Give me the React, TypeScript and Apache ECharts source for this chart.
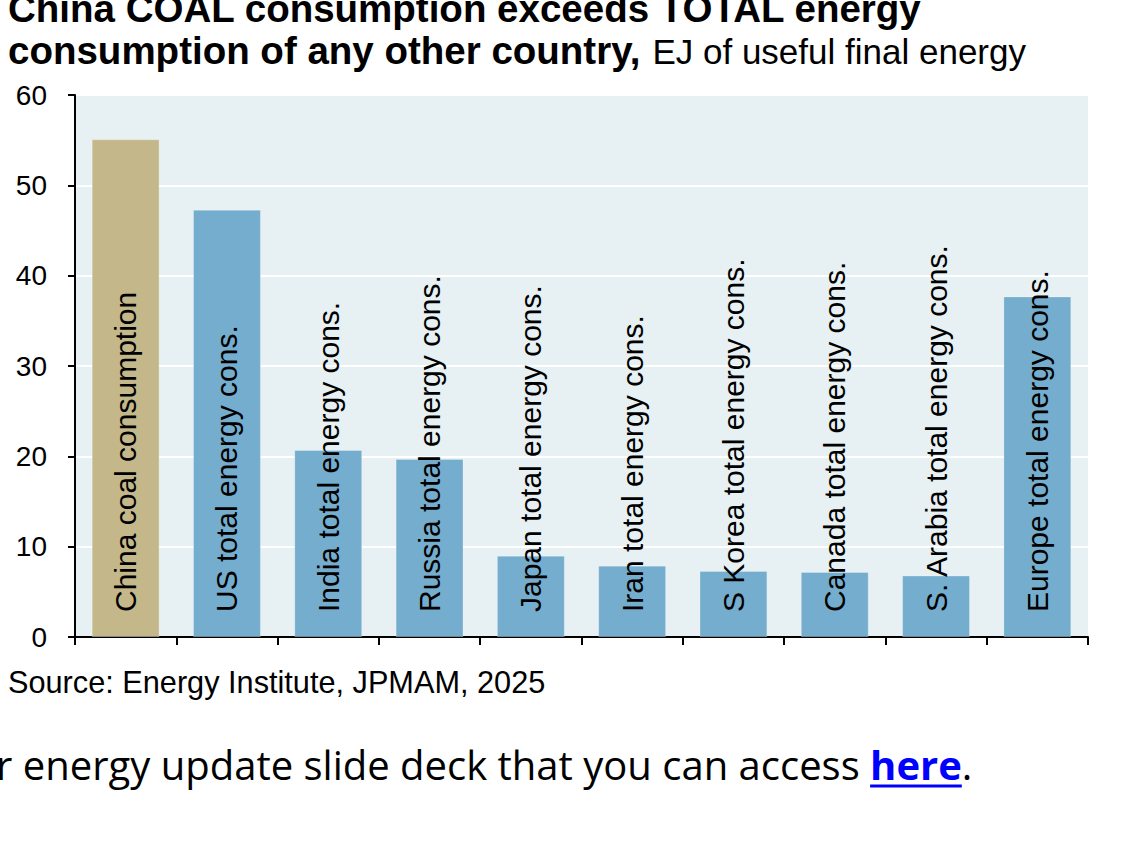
import { useEffect, useRef } from "react";
import * as echarts from "echarts";

type EChartsOption = echarts.EChartsOption;

const categories = [
  "China coal consumption",
  "US total energy cons.",
  "India total energy cons.",
  "Russia total energy cons.",
  "Japan total energy cons.",
  "Iran total energy cons.",
  "S Korea total energy cons.",
  "Canada total energy cons.",
  "S. Arabia total energy cons.",
  "Europe total energy cons.",
];

// EJ of useful final energy
const values = [55.1, 47.3, 20.7, 19.7, 9.0, 7.9, 7.3, 7.2, 6.8, 37.7];

const yTicks = [0, 10, 20, 30, 40, 50, 60];

const titleLine1 = "China COAL consumption exceeds TOTAL energy";
const titleLine2 = "consumption of any other country,";
const subtitle = "EJ of useful final energy";
const sourceText = "Source: Energy Institute, JPMAM, 2025";
const footerPrefix = "r energy update slide deck that you can access ";
const footerLink = "here";

const FONT = "'Liberation Sans', Arial, sans-serif";
const FOOT_FONT = "'Open Sans', 'Noto Sans', sans-serif";

function measure(text: string, font: string) {
  const ctx = document.createElement("canvas").getContext("2d");
  if (!ctx) return text.length * 10;
  ctx.font = font;
  return ctx.measureText(text).width;
}

export default function App() {
  const chartRef = useRef<HTMLDivElement>(null);

  useEffect(() => {
    if (!chartRef.current) return;
    const chart = echarts.init(chartRef.current, undefined, { renderer: "svg" });

    const boldTitle = `bold 38.5px ${FONT}`;
    const line2W = measure(titleLine2, boldTitle);

    const footSize = 40;
    const footX = -4;
    const prefixW = measure(footerPrefix, `${footSize}px ${FOOT_FONT}`);
    const linkW = measure(footerLink, `bold ${footSize}px ${FOOT_FONT}`);

    const option: EChartsOption = {
      animation: false,
      grid: {
        left: 75,
        right: 59,
        top: 95,
        bottom: 213,
        show: true,
        backgroundColor: "#E7F0F3",
        borderWidth: 0,
      },
      xAxis: {
        type: "category",
        data: categories,
        axisLabel: { show: false, interval: 0 },
        axisLine: { lineStyle: { color: "#000", width: 2 } },
        axisTick: {
          show: true,
          interval: 0,
          length: 8,
          lineStyle: { color: "#000", width: 2 },
        },
        splitLine: { show: false },
      },
      yAxis: {
        type: "value",
        min: 0,
        max: 60,
        interval: 10,
        axisLine: { show: true, lineStyle: { color: "#000", width: 2 } },
        axisTick: {
          show: true,
          length: 7,
          lineStyle: { color: "#000", width: 2 },
        },
        axisLabel: {
          fontFamily: FONT,
          fontSize: 28,
          color: "#000",
          margin: 28,
          formatter: (v: number) => (yTicks.includes(v) ? String(v) : ""),
        },
        splitLine: { lineStyle: { color: "#FFFFFF", width: 2 } },
      },
      series: [
        {
          type: "bar",
          data: values,
          barWidth: "67%",
          itemStyle: {
            color: (p: any) => (p.dataIndex === 0 ? "#C4B88A" : "#74ADCD"),
            borderColor: "rgba(255,255,255,0.25)",
            borderWidth: 1,
          },
          label: {
            show: true,
            position: "insideBottom",
            rotate: 90,
            align: "left",
            verticalAlign: "middle",
            distance: 25,
            formatter: "{b}",
            fontFamily: FONT,
            fontSize: 30,
            color: "#000",
          },
        },
      ],
      graphic: [
        {
          type: "text",
          left: 8,
          top: -11,
          style: { text: titleLine1, font: boldTitle, fill: "#000" },
        },
        {
          type: "text",
          left: 8,
          top: 31,
          style: { text: titleLine2, font: boldTitle, fill: "#000" },
        },
        {
          type: "text",
          left: 8 + line2W + 12,
          top: 34,
          style: { text: subtitle, font: `35px ${FONT}`, fill: "#000" },
        },
        {
          type: "text",
          left: 8,
          top: 667,
          style: { text: sourceText, font: `30.7px ${FONT}`, fill: "#000" },
        },
        {
          type: "text",
          x: footX,
          y: 764,
          style: {
            text: `${footerPrefix}{h|${footerLink}}.`,
            font: `${footSize}px ${FOOT_FONT}`,
            fill: "#000",
            verticalAlign: "middle",
            rich: {
              h: {
                font: `bold ${footSize}px ${FOOT_FONT}`,
                fill: "#0000FF",
              },
            },
          },
        },
        {
          type: "line",
          shape: {
            x1: footX + prefixW,
            y1: 786,
            x2: footX + prefixW + linkW,
            y2: 786,
          },
          style: { stroke: "#0000FF", lineWidth: 3 },
        },
      ],
    };

    chart.setOption(option);

    return () => {
      chart.dispose();
    };
  }, []);

  return (
    <div
      ref={chartRef}
      style={{ position: "fixed", left: 0, top: 0, width: 1147, height: 850, background: "#fff" }}
    />
  );
}
